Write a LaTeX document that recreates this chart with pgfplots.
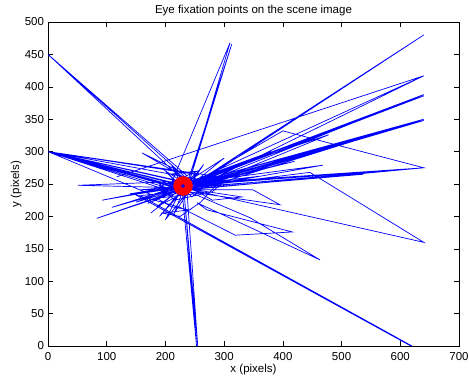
\documentclass[border=0pt]{standalone}
\usepackage{pgfplots}
\pgfplotsset{compat=1.18}
\usepackage{fontspec}
\setmainfont{Liberation Sans}
\begin{document}
\fontsize{11.5bp}{13.8bp}\selectfont
\begin{tikzpicture}
\useasboundingbox (-48bp,-35bp) rectangle (421bp,346bp);
\begin{axis}[
  scale only axis, width=411bp, height=324bp,
  xmin=0, xmax=700, ymin=0, ymax=500,
  xtick={0,100,...,700}, ytick={0,50,...,500},
  tick align=inside, major tick length=5bp,
  every tick/.style={black, line width=0.5bp},
  axis line style={line width=0.6bp},
  /pgf/number format/assume math mode=true,
  ticklabel style={font=\fontsize{11.5bp}{13.8bp}\selectfont},
  xticklabel style={anchor=base, yshift=-14bp},
  every axis title/.style={at={(axis description cs:0.5,1)}, anchor=base, yshift=9bp},
  every axis x label/.style={at={(axis description cs:0.5,0)}, anchor=base, yshift=-26bp},
  every axis y label/.style={at={(axis description cs:0,0.5)}, xshift=-29bp, rotate=90, anchor=base},
  title={Eye fixation points on the scene image},
  xlabel={x (pixels)}, ylabel={y (pixels)},
  clip=true,
]
\addplot[blue, line width=0.7bp, mark=none] coordinates {
(232,262) (0,450) (228,258) (0,450) (234,265) (160,298) (236,258) (250,248)
(640,480) (238,244) (640,480) (232,240) (0,300) (212,246) (236,238)
(640,417) (117,261) (640,417) (242,252) (640,388) (230,246) (640,388)
(238,250) (640,386) (218,240) (0,300) (258,242) (640,350) (232,248)
(640,348) (240,246) (640,350) (224,242) (0,300) (248,250) (640,275)
(400,332) (226,240) (640,275) (214,246) (0,300) (205,240) (310,468) (240,252)
(313,466) (236,248) (255,0) (231,245) (253,0) (228,243) (446,268)
(640,160) (230,244) (0,300) (262,246) (478,326) (228,250) (468,279)
(236,242) (537,265) (222,244) (0,300) (180,232) (225,254) (51,248)
(232,244) (83,197) (218,238) (157,232) (620,0) (165,228) (618,0) (150,233) (225,214)
(319,171) (416,176) (271,210) (254,221) (463,133) (344,198) (240,238)
(395,218) (349,241) (157,241) (232,247) (92,225) (235,250) (109,214)
(226,244) (200,255) (265,235) (215,225) (190,250) (270,252) (245,230)
(205,265) (255,270) (175,240) (290,245) (300,255) (280,238) (185,228)
(210,215) (240,210) (195,205) (225,200) (260,222) (300,262) (350,275)
(230,246) (330,280) (185,215) (236,248) (170,220) (232,244) (150,222)
(228,248) (120,230) (234,246) (0,300) (270,255) (226,243) (0,300)
(300,260) (233,247) (0,300) (250,265) (229,245) (140,235) (238,249)
(640,388) (226,238) (640,348) (205,232) (640,350) (240,244) (640,275)
(230,250) (380,300) (236,246) (420,285) (222,240) (175,205) (238,252)
(190,200) (230,240) (215,205) (246,247) (200,195) (232,250) (280,225)
(330,230) (236,243) (360,262) (228,248) (300,290) (240,246) (265,280)
(232,242) (200,270) (236,250) (210,280) (230,245)
};
\addplot[only marks, mark=*, mark size=9.5bp, red, mark options={draw=red, fill=red}] coordinates {(230,247)};
\addplot[only marks, mark=*, mark size=1.6bp, blue, mark options={draw=blue, fill=blue}] coordinates {(230,247)};
\end{axis}
\end{tikzpicture}
\end{document}
